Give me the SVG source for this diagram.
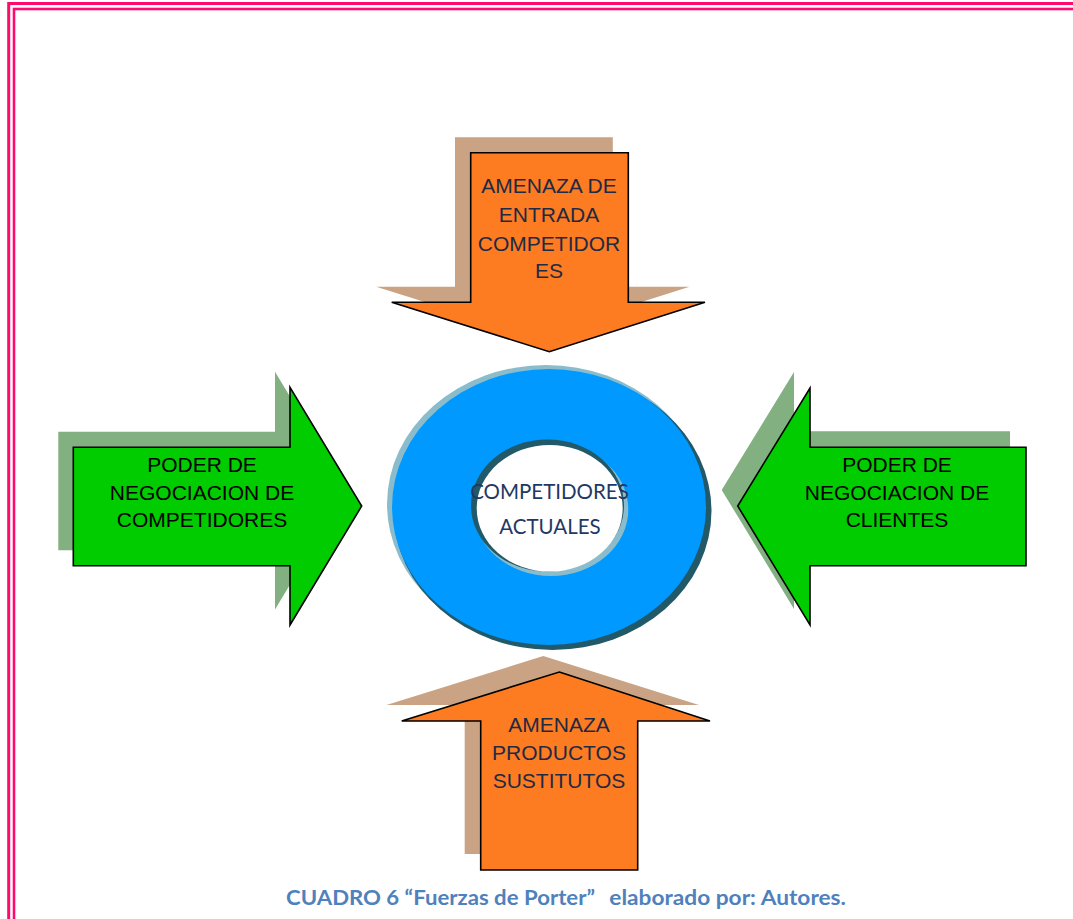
<svg xmlns="http://www.w3.org/2000/svg" width="1073" height="919" viewBox="0 0 1073 919">
<style>
.border{fill:none;stroke:#ff0a6e}
.orange{fill:#fd7b21;stroke:#000;stroke-width:1.6;stroke-linejoin:miter}
.tan{fill:#c9a383}
.green{fill:#00cc00;stroke:#000;stroke-width:1.6;stroke-linejoin:miter}
.sage{fill:#82b080}
.lbl{font-family:"Liberation Sans",Arial,sans-serif;font-size:21px;text-anchor:middle}
.navy{fill:#1f2a44}
.blk{fill:#000}
.ctr{font-family:Lato,"Open Sans",sans-serif;font-size:20.5px;fill:#1f3864;text-anchor:middle}
.cap{font-family:Lato,"Open Sans",sans-serif;font-size:21px;font-weight:bold;fill:#4f81bd}
</style>
<rect width="1073" height="919" fill="#fff"/>
<g id="frame">
<rect class="border" x="8.7" y="3.5" width="1200" height="1000" stroke-width="3"/>
<rect class="border" x="14" y="9" width="1200" height="1000" stroke-width="2.6"/>
</g>
<g id="connectors"/>
<g id="ring">
<ellipse cx="546" cy="504" rx="159" ry="139" fill="#8bbccc"/>
<ellipse cx="552.5" cy="511" rx="159" ry="139" fill="#215968"/>
<ellipse cx="549" cy="507" rx="157" ry="138" fill="#0099ff"/>
<ellipse cx="551" cy="509.5" rx="77.3" ry="66.5" fill="#8bbccc"/>
<ellipse cx="547.5" cy="505.5" rx="76.5" ry="66" fill="#215968"/>
<ellipse cx="549.7" cy="508.3" rx="73" ry="63.3" fill="#fff"/>
<text class="ctr" x="549.5" y="499.3">COMPETIDORES</text>
<text class="ctr" x="550" y="534">ACTUALES</text>
</g>
<g id="top-arrow">
<polygon class="tan" points="455,137.3 612.8,137.3 612.8,286.8 689.5,286.8 533.8,336.2 376.2,286.8 455,286.8"/>
<polygon class="orange" points="470.7,152.7 628.3,152.7 628.3,302.3 705,302.3 549.3,351.7 391.7,302.3 470.7,302.3"/>
<text class="lbl navy" x="549" y="193.3">AMENAZA DE</text>
<text class="lbl navy" x="549" y="222.3">ENTRADA</text>
<text class="lbl navy" x="549" y="250.7">COMPETIDOR</text>
<text class="lbl navy" x="549" y="278.3">ES</text>
</g>
<g id="left-arrow">
<polygon class="sage" points="58.3,431.8 275,431.8 275,371.8 346.7,490.5 275,609.5 275,550.2 58.3,550.2"/>
<polygon class="green" points="73.3,447.3 290,447.3 290,387.3 361.7,506 290,625 290,565.7 73.3,565.7"/>
<text class="lbl blk" x="202" y="472">PODER DE</text>
<text class="lbl blk" x="202" y="499.5">NEGOCIACION DE</text>
<text class="lbl blk" x="202" y="527">COMPETIDORES</text>
</g>
<g id="right-arrow">
<polygon class="sage" points="1010,431.3 794,431.3 794,372 721.7,490 794,609 794,549.7 1010,549.7"/>
<polygon class="green" points="1026,447.3 810,447.3 810,388 737.7,506 810,625 810,565.7 1026,565.7"/>
<text class="lbl blk" x="897" y="472">PODER DE</text>
<text class="lbl blk" x="897" y="499.5">NEGOCIACION DE</text>
<text class="lbl blk" x="897" y="527">CLIENTES</text>
</g>
<g id="bottom-arrow">
<polygon class="tan" points="543.3,656 699,705 621.7,705 621.7,854 464.7,854 464.7,705 386.5,705"/>
<polygon class="orange" points="559.3,672 710,721 637.7,721 637.7,870 480.7,870 480.7,721 401.7,721"/>
<text class="lbl navy" x="559" y="731.7">AMENAZA</text>
<text class="lbl navy" x="559" y="760">PRODUCTOS</text>
<text class="lbl navy" x="559" y="787.7">SUSTITUTOS</text>
</g>
<g id="caption">
<text class="cap" x="286" y="905" textLength="309" lengthAdjust="spacingAndGlyphs">CUADRO 6 “Fuerzas de Porter”</text>
<text class="cap" x="609.3" y="905" textLength="236.7" lengthAdjust="spacingAndGlyphs">elaborado por: Autores.</text>
</g>
</svg>
